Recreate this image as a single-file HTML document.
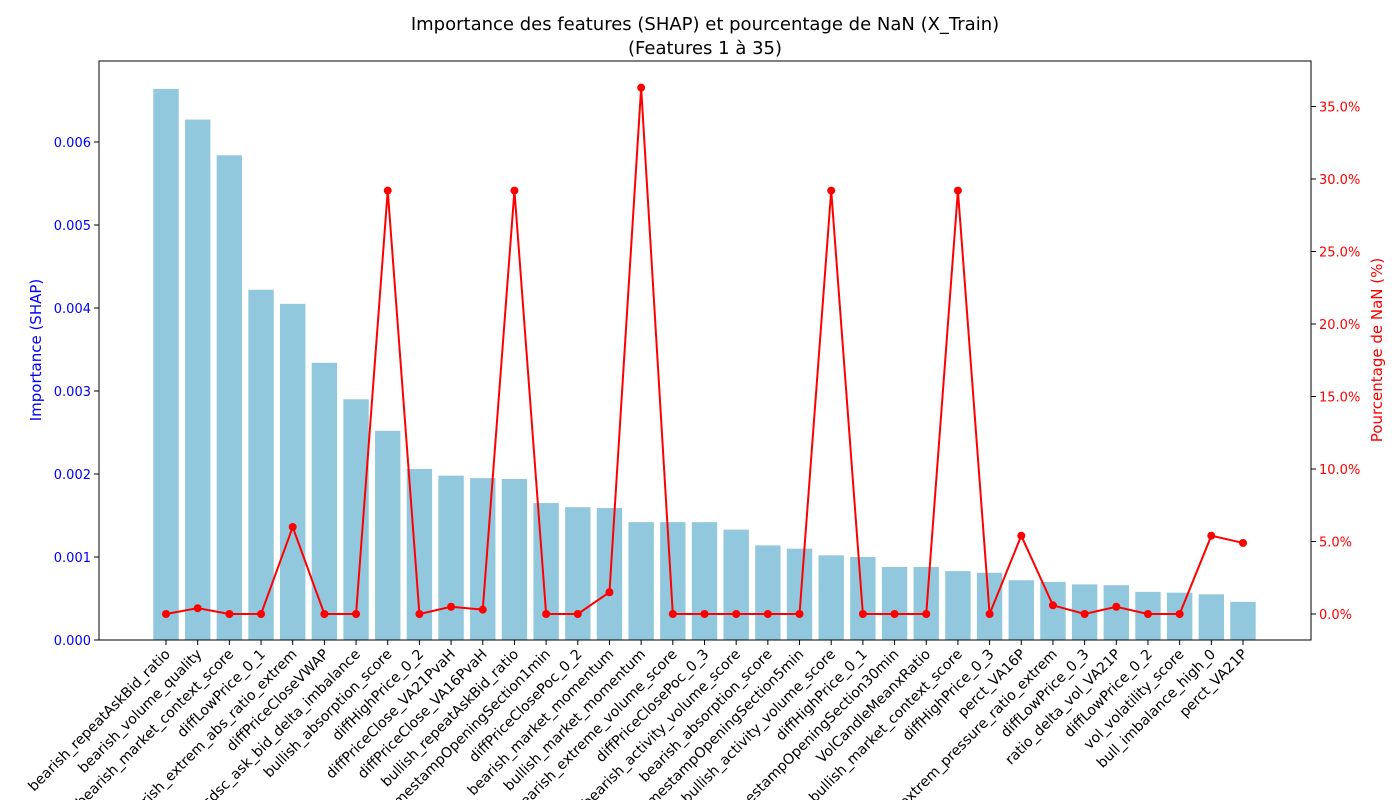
<!DOCTYPE html>
<html><head><meta charset="utf-8"><style>
body{margin:0;background:#fff;width:1400px;height:800px;overflow:hidden}
svg{font-family:"DejaVu Sans","Liberation Sans",sans-serif}
</style></head><body>
<svg id="chart" width="1400" height="800" viewBox="0 0 1400 800" xmlns="http://www.w3.org/2000/svg">
<text x="705" y="30" text-anchor="middle" font-size="18">Importance des features (SHAP) et pourcentage de NaN (X_Train)</text>
<text x="705" y="54" text-anchor="middle" font-size="18">(Features 1 à 35)</text>
<g id="bars"></g><g id="line"></g><g id="axes"></g>
<text transform="translate(41,350) rotate(-90)" text-anchor="middle" font-size="15" fill="#0000ff">Importance (SHAP)</text>
<text transform="translate(1382,350) rotate(-90)" text-anchor="middle" font-size="15" fill="#ff0000">Pourcentage de NaN (%)</text>
</svg>
<script>
const categories=["bearish_repeatAskBid_ratio","bearish_volume_quality","bearish_market_context_score","diffLowPrice_0_1","bearish_extrem_abs_ratio_extrem","diffPriceCloseVWAP","absdsc_ask_bid_delta_imbalance","bullish_absorption_score","diffHighPrice_0_2","diffPriceClose_VA21PvaH","diffPriceClose_VA16PvaH","bullish_repeatAskBid_ratio","timestampOpeningSection1min","diffPriceClosePoc_0_2","bearish_market_momentum","bullish_market_momentum","bearish_extreme_volume_score","diffPriceClosePoc_0_3","bearish_activity_volume_score","bearish_absorption_score","timestampOpeningSection5min","bullish_activity_volume_score","diffHighPrice_0_1","timestampOpeningSection30min","VolCandleMeanxRatio","bullish_market_context_score","diffHighPrice_0_3","perct_VA16P","bull_extrem_pressure_ratio_extrem","diffLowPrice_0_3","ratio_delta_vol_VA21P","diffLowPrice_0_2","vol_volatility_score","bull_imbalance_high_0","perct_VA21P"];
const shapValues=[0.00664,0.00627,0.00584,0.00422,0.00405,0.00334,0.0029,0.00252,0.00206,0.00198,0.00195,0.00194,0.00165,0.0016,0.00159,0.00142,0.00142,0.00142,0.00133,0.00114,0.0011,0.00102,0.001,0.00088,0.00088,0.00083,0.00081,0.00072,0.0007,0.00067,0.00066,0.00058,0.00057,0.00055,0.00046];
const nanValues=[0,0.4,0,0,6.0,0,0,29.2,0,0.5,0.3,29.2,0,0,1.5,36.3,0,0,0,0,0,29.2,0,0,0,29.2,0,5.4,0.6,0,0.5,0,0,5.4,4.9];
const leftTicks=[0,0.001,0.002,0.003,0.004,0.005,0.006];
const rightTicks=[0,5,10,15,20,25,30,35];
const L=99,R=1311,T=61,B=640;
const x=i=>166+i*(1243-166)/34;
const yL=v=>640-v*83000;
const yR=v=>614-v*14.5;
const NS="http://www.w3.org/2000/svg";
function mk(tag,attrs,parent,txt){const e=document.createElementNS(NS,tag);for(const k in attrs)e.setAttribute(k,attrs[k]);if(txt!==undefined)e.textContent=txt;parent.appendChild(e);return e;}
const svg=document.getElementById('chart');
const gb=document.getElementById('bars'),gl=document.getElementById('line'),ga=document.getElementById('axes');
categories.forEach((c,i)=>{
 const r=mk('rect',{x:x(i)-12.7,y:yL(shapValues[i]),width:25.4,height:B-yL(shapValues[i]),fill:'#92c8de'},gb);
 
 
 const t=mk('line',{x1:x(i),x2:x(i),y1:B,y2:B+5,stroke:'#000'},ga);
 
 
 const lb=mk('text',{transform:`translate(${x(i)+5},${B+15}) rotate(-45)`,'text-anchor':'end','font-size':'14.2'},ga,c);
 
 
});
const pts=nanValues.map((v,i)=>x(i)+','+yR(v)).join(' ');
const pl=mk('polyline',{points:pts,fill:'none',stroke:'#ff0000','stroke-width':2},gl);


nanValues.forEach((v,i)=>{
 const c=mk('circle',{cx:x(i),cy:yR(v),r:4,fill:'#ff0000'},gl);
 
 
});
const fr=mk('rect',{x:L,y:T,width:R-L,height:B-T,fill:'none',stroke:'#000','stroke-width':1},ga);


leftTicks.forEach(v=>{
 mk('line',{x1:L-5,x2:L,y1:yL(v),y2:yL(v),stroke:'#000'},ga);
 const t=mk('text',{x:L-8,y:yL(v)+5,'text-anchor':'end','font-size':'13',fill:'#0000ff'},ga,v.toFixed(3));
 
 
});
rightTicks.forEach(v=>{
 mk('line',{x1:R,x2:R+5,y1:yR(v),y2:yR(v),stroke:'#000'},ga);
 const t=mk('text',{x:R+8,y:yR(v)+5,'font-size':'13',fill:'#ff0000'},ga,v.toFixed(1)+'%');
 
 
});
</script>
</body></html>
